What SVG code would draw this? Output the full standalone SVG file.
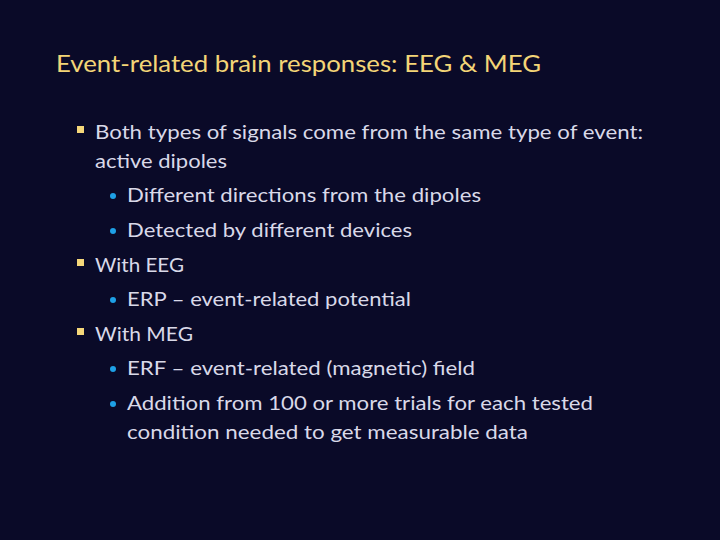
<svg xmlns="http://www.w3.org/2000/svg" width="720" height="540" viewBox="0 0 720 540">
<style>
text{font-family:Lato,"Open Sans","Liberation Sans",sans-serif;}
.t{fill:#f3d577;font-size:24px}
.b{fill:#d9d9e8;font-size:20px}
.sq{fill:#f5d77a}
.dot{fill:#1ea0e6}
</style>
<rect width="720" height="540" fill="#0a0a28"/>
<text class="t" x="56" y="72" textLength="485" lengthAdjust="spacingAndGlyphs">Event-related brain responses: EEG &amp; MEG</text>
<rect class="sq" x="77" y="126" width="7" height="7"/>
<text class="b" x="95" y="139" textLength="548" lengthAdjust="spacingAndGlyphs">Both types of signals come from the same type of event:</text>
<text class="b" x="95" y="168" textLength="132" lengthAdjust="spacingAndGlyphs">active dipoles</text>
<circle class="dot" cx="113" cy="196" r="3"/>
<text class="b" x="127" y="202" textLength="354" lengthAdjust="spacingAndGlyphs">Different directions from the dipoles</text>
<circle class="dot" cx="113" cy="231" r="3"/>
<text class="b" x="127" y="237" textLength="285" lengthAdjust="spacingAndGlyphs">Detected by different devices</text>
<rect class="sq" x="77" y="259" width="7" height="7"/>
<text class="b" x="95" y="272" textLength="89" lengthAdjust="spacingAndGlyphs">With EEG</text>
<circle class="dot" cx="113" cy="300" r="3"/>
<text class="b" x="127" y="306" textLength="284" lengthAdjust="spacingAndGlyphs">ERP – event-related potential</text>
<rect class="sq" x="77" y="328" width="7" height="7"/>
<text class="b" x="95" y="341" textLength="98" lengthAdjust="spacingAndGlyphs">With MEG</text>
<circle class="dot" cx="113" cy="369" r="3"/>
<text class="b" x="127" y="375" textLength="348" lengthAdjust="spacingAndGlyphs">ERF – event-related (magnetic) field</text>
<circle class="dot" cx="113" cy="404" r="3"/>
<text class="b" x="127" y="410" textLength="466" lengthAdjust="spacingAndGlyphs">Addition from 100 or more trials for each tested</text>
<text class="b" x="127" y="439" textLength="401" lengthAdjust="spacingAndGlyphs">condition needed to get measurable data</text>
</svg>
